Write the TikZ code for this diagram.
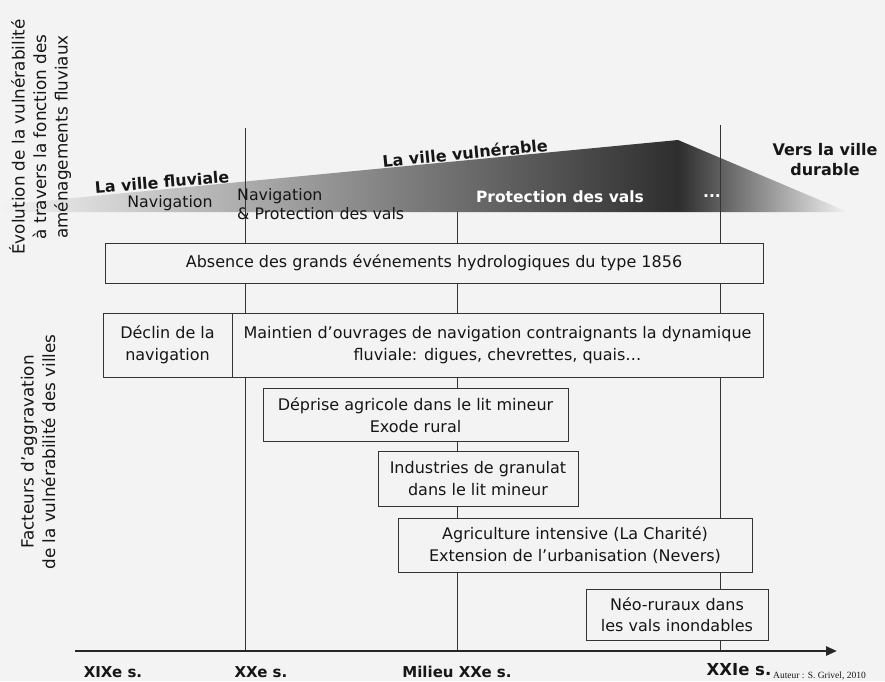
\documentclass[tikz,border=0pt]{standalone}
\usepackage{fontspec}
\setmainfont{DejaVu Sans}
\newfontfamily\serifauth{Liberation Serif}
\usetikzlibrary{arrows.meta}
\definecolor{bgc}{HTML}{F3F3F4}
\definecolor{ink}{HTML}{161616}
\begin{document}
\begin{tikzpicture}[x=1pt,y=-1pt,
  every node/.style={text=ink},
  box/.style={draw=black!80, line width=0.8pt, fill=bgc, inner sep=0pt, align=center,
    font=\fontsize{16}{21.5}\selectfont},
  tline/.style={draw=black!80, line width=0.8pt},
  axtitle/.style={rotate=90, align=center, inner sep=0pt, font=\fontsize{16.8}{21.5}\selectfont},
  era/.style={inner sep=0pt, font=\bfseries\fontsize{15.8}{19}\selectfont},
  axlab/.style={inner sep=0pt, font=\bfseries\fontsize{15}{18}\selectfont},
  bandtxt/.style={inner sep=0pt, text=white, font=\bfseries\fontsize{15.5}{18}\selectfont},
  plain/.style={inner sep=0pt, font=\fontsize{15.8}{19}\selectfont}
]
\useasboundingbox (0,0) rectangle (885,681);
\fill[bgc] (0,0) rectangle (885,681);

% gradient band
\shade[left color=bgc, right color=black!82] (0,212) -- (0,205) -- (678,140) -- (678,212) -- cycle;
\shade[left color=black!82, right color=bgc] (678,140) -- (848,212) -- (678,212) -- cycle;

% timeline coordinates
\coordinate (t1top) at (245,128);
\coordinate (t1bot) at (245,651);
\coordinate (t2top) at (457,212);
\coordinate (t2bot) at (457,651);
\coordinate (t3top) at (720,125);
\coordinate (t3bot) at (720,651);
\coordinate (axL) at (75,651);
\coordinate (axR) at (837,651);

\draw[tline] (t1top) -- (t1bot);
\draw[tline] (t2top) -- (t2bot);
\draw[tline] (t3top) -- (t3bot);

\draw[black!85, line width=2.5pt, -{Triangle[length=11pt,width=9pt]}] (axL) -- (axR);

% band texts
\node[bandtxt] (prot) at (560,197) {Protection des vals};
\node[bandtxt] (dots) at (712,196) {...};

% era titles
\node[era, rotate=4.5] (fluv) at (162,182) {La ville fluviale};
\node[era, rotate=5.5, font=\bfseries\fontsize{16}{19}\selectfont] (vuln) at (465,153) {La ville vulnérable};
\node[era, align=center, font=\bfseries\fontsize{16}{20}\selectfont] (dur) at (825,160) {Vers la ville\\durable};

\node[plain] (nav1) at (170,203) {Navigation};
\node[plain, anchor=west, align=left] (nav2) at (237,204.5) {Navigation\\\& Protection des vals};

% left titles
\node[axtitle] (evo) at (40,137) {Évolution de la vulnérabilité\\à travers la fonction des\\aménagements fluviaux};
\node[axtitle] (fact) at (38,452) {Facteurs d’aggravation\\de la vulnérabilité des villes};

% boxes
\node[box, minimum width=658pt, minimum height=40pt] (absence) at (434,263) {Absence des grands événements hydrologiques du type 1856};
\node[box, minimum width=129pt, minimum height=64pt] (declin) at (167.5,345) {Déclin de la\\navigation};
\node[box, minimum width=531pt, minimum height=64pt] (maintien) at (497.5,345) {Maintien d’ouvrages de navigation contraignants la dynamique\\fluviale: digues, chevrettes, quais…};
\node[box, minimum width=305pt, minimum height=53pt] (deprise) at (415.5,415) {Déprise agricole dans le lit mineur\\Exode rural};
\node[box, minimum width=200pt, minimum height=55pt] (indus) at (478,478.5) {Industries de granulat\\dans le lit mineur};
\node[box, minimum width=354pt, minimum height=54pt] (agri) at (575,545) {Agriculture intensive (La Charité)\\Extension de l’urbanisation (Nevers)};
\node[box, minimum width=182pt, minimum height=51pt] (neo) at (677,614.5) {Néo-ruraux dans\\les vals inondables};

% axis labels
\node[axlab] (l19) at (113,672) {XIXe s.};
\node[axlab] (l20) at (261,672) {XXe s.};
\node[axlab] (lmid) at (457,672) {Milieu XXe s.};
\node[axlab, font=\bfseries\fontsize{16.5}{19}\selectfont] (l21) at (739,670) {XXIe s.};
\node[anchor=west, inner sep=0pt, font=\serifauth\fontsize{9.5}{11}\selectfont] (auteur) at (773,676) {Auteur : S. Grivel, 2010};
\end{tikzpicture}
\end{document}
